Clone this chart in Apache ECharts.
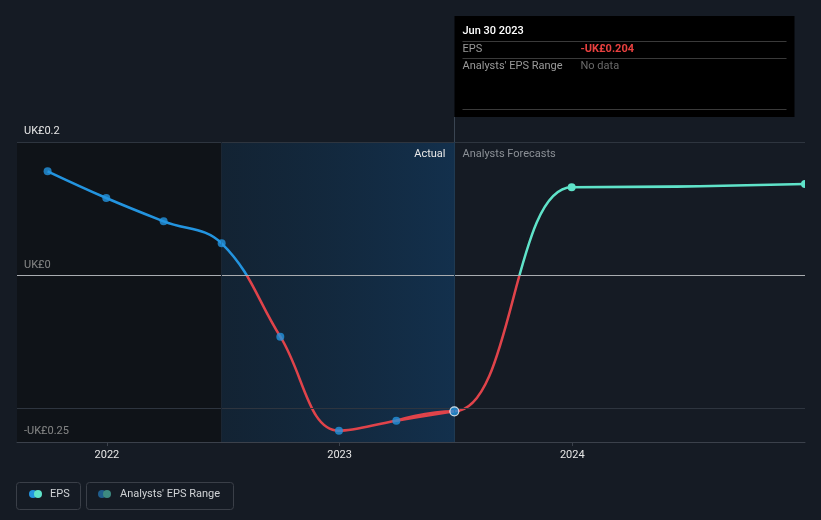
<!DOCTYPE html>
<html><head><meta charset="utf-8">
<script src="https://cdn.jsdelivr.net/npm/echarts@6/dist/echarts.min.js"></script>
<style>html,body{margin:0;padding:0;background:#151b24;}#c{width:821px;height:520px;}</style>
</head><body><div id="c"></div>
<script>
const actualDates = ['2021-09-30','2021-12-31','2022-03-31','2022-06-30','2022-09-30','2022-12-31','2023-03-31','2023-06-30'];
const actualEps = [0.156,0.116,0.081,0.048,-0.092,-0.233,-0.218,-0.204];
const forecastDates = ['2023-06-30','2023-12-31','2024-12-31'];
const forecastEps = [-0.204,0.132,0.137];
const yTickValues = [0.2, 0, -0.25];
const yTickLabels = ['UK£0.2','UK£0','-UK£0.25'];
const gridValues = [0.2, -0.2];
const zeroValue = 0;
const axisMin = '2021-08-13';
const axisMax = '2024-12-31';
const pastEnd = '2022-06-30';
const actualEnd = '2023-06-30';

const FONT = 'Roboto, "Open Sans", sans-serif';
const BLUE = '#2394df', RED = '#e0434a', TEAL = '#5fe3c9';
const actualData = actualDates.map((d,i)=>[d, actualEps[i]]);
const forecastData = forecastDates.map((d,i)=>[d, forecastEps[i]]);
// forecast curve drawn with the previous actual point as context for smoothing (hidden beneath actual line)
const forecastCurve = [actualData[actualData.length - 2], ...forecastData];

const chart = echarts.init(document.getElementById('c'), null, {renderer:'canvas'});
const option = {
  backgroundColor: '#151b24',
  animation: false,
  grid: {left: 17, right: 16, top: 142, bottom: 78},
  xAxis: {
    type: 'time', min: axisMin, max: axisMax,
    minInterval: 365*24*3600*1000, maxInterval: 366*24*3600*1000,
    axisLine: {onZero: false, lineStyle: {color: '#3b414b', width: 1}},
    axisTick: {show: true, length: 4, lineStyle: {color: '#3b414b'}},
    axisLabel: {color: '#e6e6e6', fontSize: 11, fontFamily: FONT, margin: 8,
      formatter: v => String(new Date(v).getFullYear())},
    splitLine: {show: false}
  },
  yAxis: {
    type: 'value', min: -0.25, max: 0.2, interval: 0.05,
    axisLine: {show: false}, axisTick: {show: false}, splitLine: {show: false},
    axisLabel: {
      inside: true, margin: 7, verticalAlign: 'bottom', padding: [0,0,5,0],
      color: '#e6e6e6', fontSize: 11, fontFamily: FONT,
      formatter: v => {
        const r = Math.round(v*100)/100;
        const i = yTickValues.findIndex(t => Math.abs(t - r) < 1e-9);
        return i >= 0 ? yTickLabels[i] : '';
      }
    }
  },
  series: [
    {
      type: 'line', data: actualData, smooth: 0.4, showSymbol: false, symbol: 'none',
      lineStyle: {width: 2.5, color: BLUE}, z: 3,
      markArea: {
        silent: true,
        data: [
          [{xAxis: axisMin, itemStyle: {color: 'rgba(8,10,12,0.45)'}}, {xAxis: pastEnd}],
          [{xAxis: pastEnd, itemStyle: {color: {type:'linear', x:0, y:0, x2:1, y2:0,
            colorStops:[{offset:0, color:'rgba(16,45,70,0.45)'},{offset:1, color:'rgba(18,55,90,0.75)'}]}}},
           {xAxis: actualEnd}]
        ]
      },
      markLine: {
        silent: true, symbol: 'none', label: {show: false},
        data: [
          ...gridValues.map(v => ({yAxis: v, lineStyle: {color: '#2e353f', width: 1, type: 'solid'}})),
          {yAxis: zeroValue, lineStyle: {color: '#a9acb0', width: 1, type: 'solid'}},
          {xAxis: pastEnd, lineStyle: {color: '#1b2633', width: 1, type: 'solid'}},
          {xAxis: actualEnd, lineStyle: {color: '#1f3a52', width: 1, type: 'solid'}}
        ]
      }
    },
    {
      type: 'line', data: forecastCurve, smooth: 0.5, smoothMonotone: 'x', showSymbol: false, symbol: 'none',
      lineStyle: {width: 2.5, color: TEAL}, z: 2
    },
    {
      type: 'scatter', data: actualData.slice(0, -1), symbolSize: 8,
      itemStyle: {color: BLUE}, z: 5
    },
    {
      type: 'scatter', data: actualData.slice(-1), symbolSize: 9,
      itemStyle: {color: BLUE, borderColor: '#ffffff', borderWidth: 1.2}, z: 6
    },
    {
      type: 'custom', data: forecastData.slice(1), clip: true, z: 5,
      renderItem: (params, api) => {
        const p = api.coord([api.value(0), api.value(1)]);
        return {type: 'circle', shape: {cx: p[0], cy: p[1], r: 4}, style: {fill: TEAL}};
      }
    }
  ]
};
chart.setOption(option);

const xa = chart.convertToPixel({xAxisIndex: 0}, actualEnd);
const zy = chart.convertToPixel({yAxisIndex: 0}, zeroValue);
const H = 520;
function splitColor(above, below) {
  const o = zy / H;
  return {type: 'linear', x: 0, y: 0, x2: 0, y2: H, global: true,
    colorStops: [{offset: 0, color: above}, {offset: o, color: above}, {offset: o, color: below}, {offset: 1, color: below}]};
}
const topY = 142;
const boxL = Math.round(xa) + 0.5;
const Z = 100;
chart.setOption({
  series: [
    {lineStyle: {color: splitColor(BLUE, RED)}},
    {lineStyle: {color: splitColor(TEAL, RED)}}
  ],
  graphic: [
    {type: 'line', z: Z, shape: {x1: boxL, y1: 117, x2: boxL, y2: topY}, style: {stroke: '#3a4552', lineWidth: 1}, silent: true},
    {type: 'text', z: Z, x: boxL - 9, y: 154, style: {text: 'Actual', fill: '#e8e8e8', font: '11px ' + FONT, align: 'right', verticalAlign: 'middle'}},
    {type: 'text', z: Z, x: boxL + 8, y: 154, style: {text: 'Analysts Forecasts', fill: '#8b9096', font: '11px ' + FONT, align: 'left', verticalAlign: 'middle'}},
    {type: 'rect', z: Z, shape: {x: boxL, y: 16, width: 340, height: 101}, style: {fill: '#000000'}},
    {type: 'text', z: Z, x: boxL + 8, y: 31, style: {text: 'Jun 30 2023', fill: '#ffffff', font: '500 11px ' + FONT, verticalAlign: 'middle'}},
    {type: 'line', z: Z, shape: {x1: boxL + 8, y1: 41.5, x2: boxL + 332, y2: 41.5}, style: {stroke: '#3a3a3a', lineWidth: 1}},
    {type: 'text', z: Z, x: boxL + 8, y: 49, style: {text: 'EPS', fill: '#9a9a9a', font: '11px ' + FONT, verticalAlign: 'middle'}},
    {type: 'text', z: Z, x: boxL + 126, y: 49, style: {text: '-UK£0.204', fill: '#e8403f', font: 'bold 11px ' + FONT, verticalAlign: 'middle'}},
    {type: 'line', z: Z, shape: {x1: boxL + 8, y1: 58.5, x2: boxL + 332, y2: 58.5}, style: {stroke: '#3a3a3a', lineWidth: 1}},
    {type: 'text', z: Z, x: boxL + 8, y: 66, style: {text: "Analysts' EPS Range", fill: '#9a9a9a', font: '11px ' + FONT, verticalAlign: 'middle'}},
    {type: 'text', z: Z, x: boxL + 126, y: 66, style: {text: 'No data', fill: '#6a6a6a', font: '11px ' + FONT, verticalAlign: 'middle'}},
    {type: 'line', z: Z, shape: {x1: boxL + 8, y1: 109.5, x2: boxL + 332, y2: 109.5}, style: {stroke: '#3a3a3a', lineWidth: 1}},
    {type: 'rect', z: Z, shape: {x: 16.5, y: 482.5, width: 64, height: 27, r: 3}, style: {fill: 'none', stroke: '#3a3f48', lineWidth: 1}},
    {type: 'circle', z: Z, shape: {cx: 33, cy: 494, r: 4}, style: {fill: BLUE}},
    {type: 'circle', z: Z, shape: {cx: 38, cy: 494, r: 4}, style: {fill: TEAL}},
    {type: 'text', z: Z, x: 50, y: 494, style: {text: 'EPS', fill: '#d0d3d6', font: '11px ' + FONT, verticalAlign: 'middle'}},
    {type: 'rect', z: Z, shape: {x: 86.5, y: 482.5, width: 147, height: 27, r: 3}, style: {fill: 'none', stroke: '#3a3f48', lineWidth: 1}},
    {type: 'circle', z: Z, shape: {cx: 102, cy: 494, r: 4}, style: {fill: '#1f5d8c'}},
    {type: 'circle', z: Z, shape: {cx: 107, cy: 494, r: 4}, style: {fill: '#3d8a80'}},
    {type: 'text', z: Z, x: 120, y: 494, style: {text: "Analysts' EPS Range", fill: '#d0d3d6', font: '11px ' + FONT, verticalAlign: 'middle'}}
  ]
});
</script></body></html>
